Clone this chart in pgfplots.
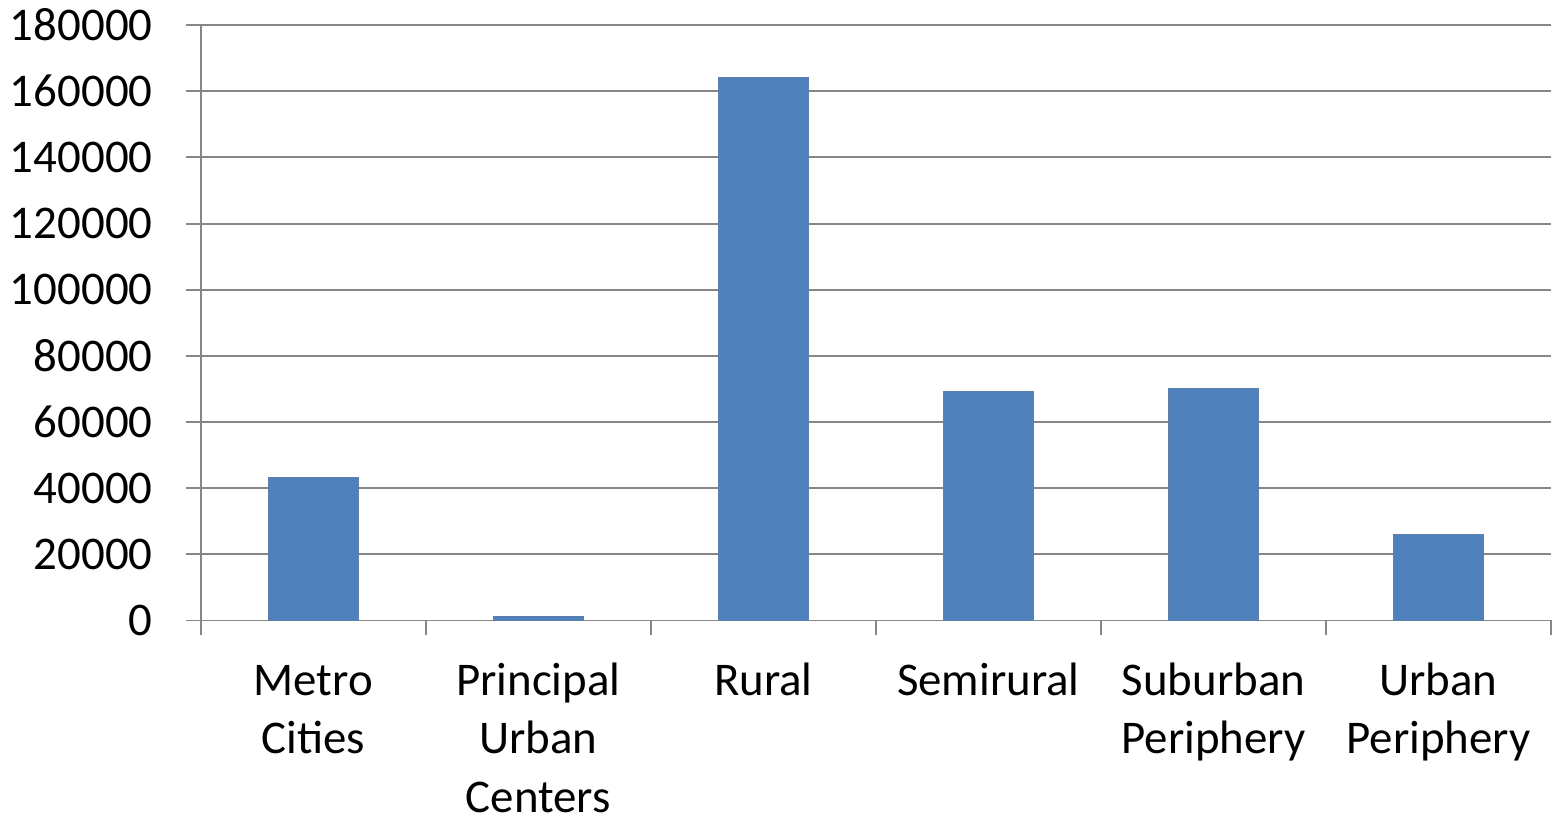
\documentclass[border=0pt]{standalone}
\usepackage{pgfplots}
\pgfplotsset{compat=1.18}
\usepackage{fontspec}
\setmainfont{Carlito}
\definecolor{barblue}{HTML}{4F81BD}
\definecolor{gridgray}{HTML}{868686}
\begin{document}
\begin{tikzpicture}
\begin{axis}[
  scale only axis,
  width=677pt, height=298.5pt,
  xmin=-0.5, xmax=5.5,
  ymin=0, ymax=180000,
  ytick={0,20000,...,180000},
  yticklabel={\pgfmathprintnumber[assume math mode=true,1000 sep={},fixed]{\tick}},
  yticklabel style={font=\fontsize{23.5}{29.5}\selectfont, xshift=-11.5pt, inner xsep=5pt, inner ysep=4.5pt},
  xtick={-0.5,0.5,1.5,2.5,3.5,4.5,5.5},
  xticklabel=\empty,
  xticklabel style={inner sep=0pt},
  extra x ticks={0,1,2,3,4,5},
  extra x tick labels={{\strut Metro\\Cities},{\strut Principal\\Urban\\Centers},{\strut Rural},{\strut Semirural},{\strut Suburban\\Periphery},{\strut Urban\\Periphery}},
  extra x tick style={major tick length=0pt, grid=none,
    xticklabel style={align=center, inner sep=0pt, font=\fontsize{23.5}{29.2}\selectfont, anchor=north, yshift=-17pt}},
  tick align=outside,
  major tick length=7.5pt,
  tick style={draw=gridgray, line width=1pt},
  ymajorgrids,
  grid style={draw=gridgray, line width=1pt},
  axis x line*=bottom,
  axis y line*=left,
  axis line style={draw=gridgray, line width=1pt, -},
  scaled y ticks=false,
  ybar, bar width=45pt,
  bar shift=0pt,
  clip=false,
]
\addplot[fill=barblue, draw=barblue!70!gray, line width=0.5pt] coordinates {
  (0,43300) (1,1300) (2,164200) (3,69200) (4,70000) (5,25900)
};
\end{axis}
\end{tikzpicture}
\end{document}
